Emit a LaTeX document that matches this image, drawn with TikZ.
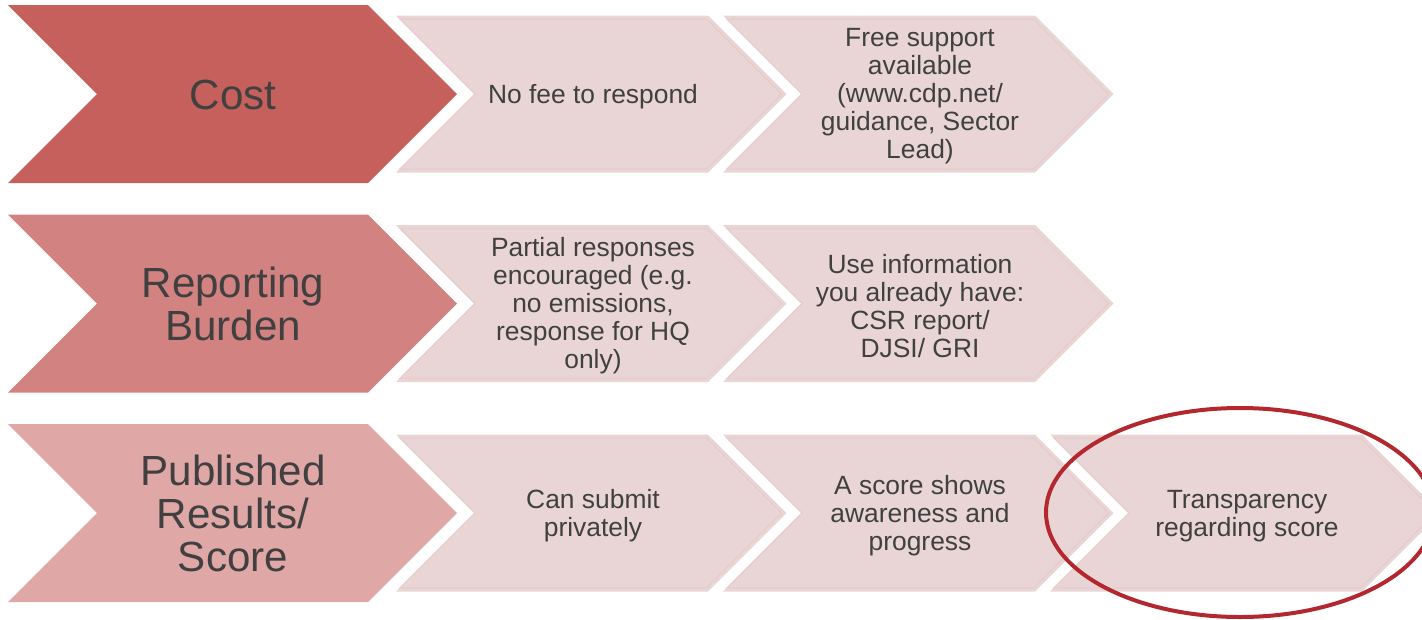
\documentclass[tikz,border=0pt]{standalone}
\usepackage{fontspec}
\setmainfont{Liberation Sans}
\definecolor{bigA}{HTML}{C5605C}
\definecolor{bigB}{HTML}{D28280}
\definecolor{bigC}{HTML}{E0A7A7}
\definecolor{smallfill}{HTML}{EAD5D6}
\definecolor{smallline}{HTML}{E5CDCE}
\definecolor{txt}{HTML}{404040}
\definecolor{ring}{HTML}{B3282E}
\newcommand\bigchev[2]{%
  \fill[#2] (8,#1) -- (368,#1) -- (457,#1+89) -- (368,#1+178) -- (8,#1+178) -- (97,#1+89) -- cycle;}
\newcommand\smallchev[2]{%
  \fill[smallfill] (#1,#2) -- (#1+312,#2) -- (#1+390.5,#2+78.5) -- (#1+312,#2+157) -- (#1,#2+157) -- (#1+78.5,#2+78.5) -- cycle;
  \draw[smallline, line width=1pt]
    (#1+4,#2+3.5) -- (#1+310.5,#2+3.5) -- (#1+385.5,#2+78.5) -- (#1+310.5,#2+153.5) -- (#1+4,#2+153.5) -- (#1+79,#2+78.5) -- cycle;}
\tikzset{
  bigtext/.style={text=txt, align=center, font=\fontsize{31.6}{32.3}\selectfont, inner sep=0pt},
  smalltext/.style={text=txt, align=center, font=\fontsize{19.8}{21}\selectfont, inner sep=0pt},
}
\begin{document}
\begin{tikzpicture}[x=0.75pt, y=-0.75pt]
\useasboundingbox (0,0) rectangle (1422,619);
\clip (0,0) rectangle (1422,619);
% row 1
\bigchev{5}{bigA}
\smallchev{396}{15.5}
\smallchev{723}{15.5}
% row 2
\bigchev{214.5}{bigB}
\smallchev{396}{225}
\smallchev{723}{225}
% row 3
\bigchev{424}{bigC}
\smallchev{396}{434.5}
\smallchev{723}{434.5}
\smallchev{1050}{434.5}

\node[bigtext] (cost) at (233,95) {Cost};
\node[smalltext] (nofee) at (593,97) {No fee to respond};
\node[smalltext] (free) at (920,96) {Free support\\available\\(www.cdp.net/\\guidance, Sector\\Lead)};

\node[bigtext] (burden) at (233,304) {Reporting\\Burden};
\node[smalltext] (partial) at (593,306) {Partial responses\\encouraged (e.g.\\no emissions,\\response for HQ\\only)};
\node[smalltext] (useinfo) at (920,306) {Use information\\you already have:\\CSR report/\\DJSI/ GRI};

\node[bigtext] (published) at (233,513) {Published\\Results/\\Score};
\node[smalltext] (private) at (593,516) {Can submit\\privately};
\node[smalltext] (ascore) at (920,516) {A score shows\\awareness and\\progress};
\node[smalltext] (transp) at (1247,516) {Transparency\\regarding score};

\draw[ring, line width=3pt] (1240,512.5) ellipse [x radius=194, y radius=104.5];
\end{tikzpicture}
\end{document}
